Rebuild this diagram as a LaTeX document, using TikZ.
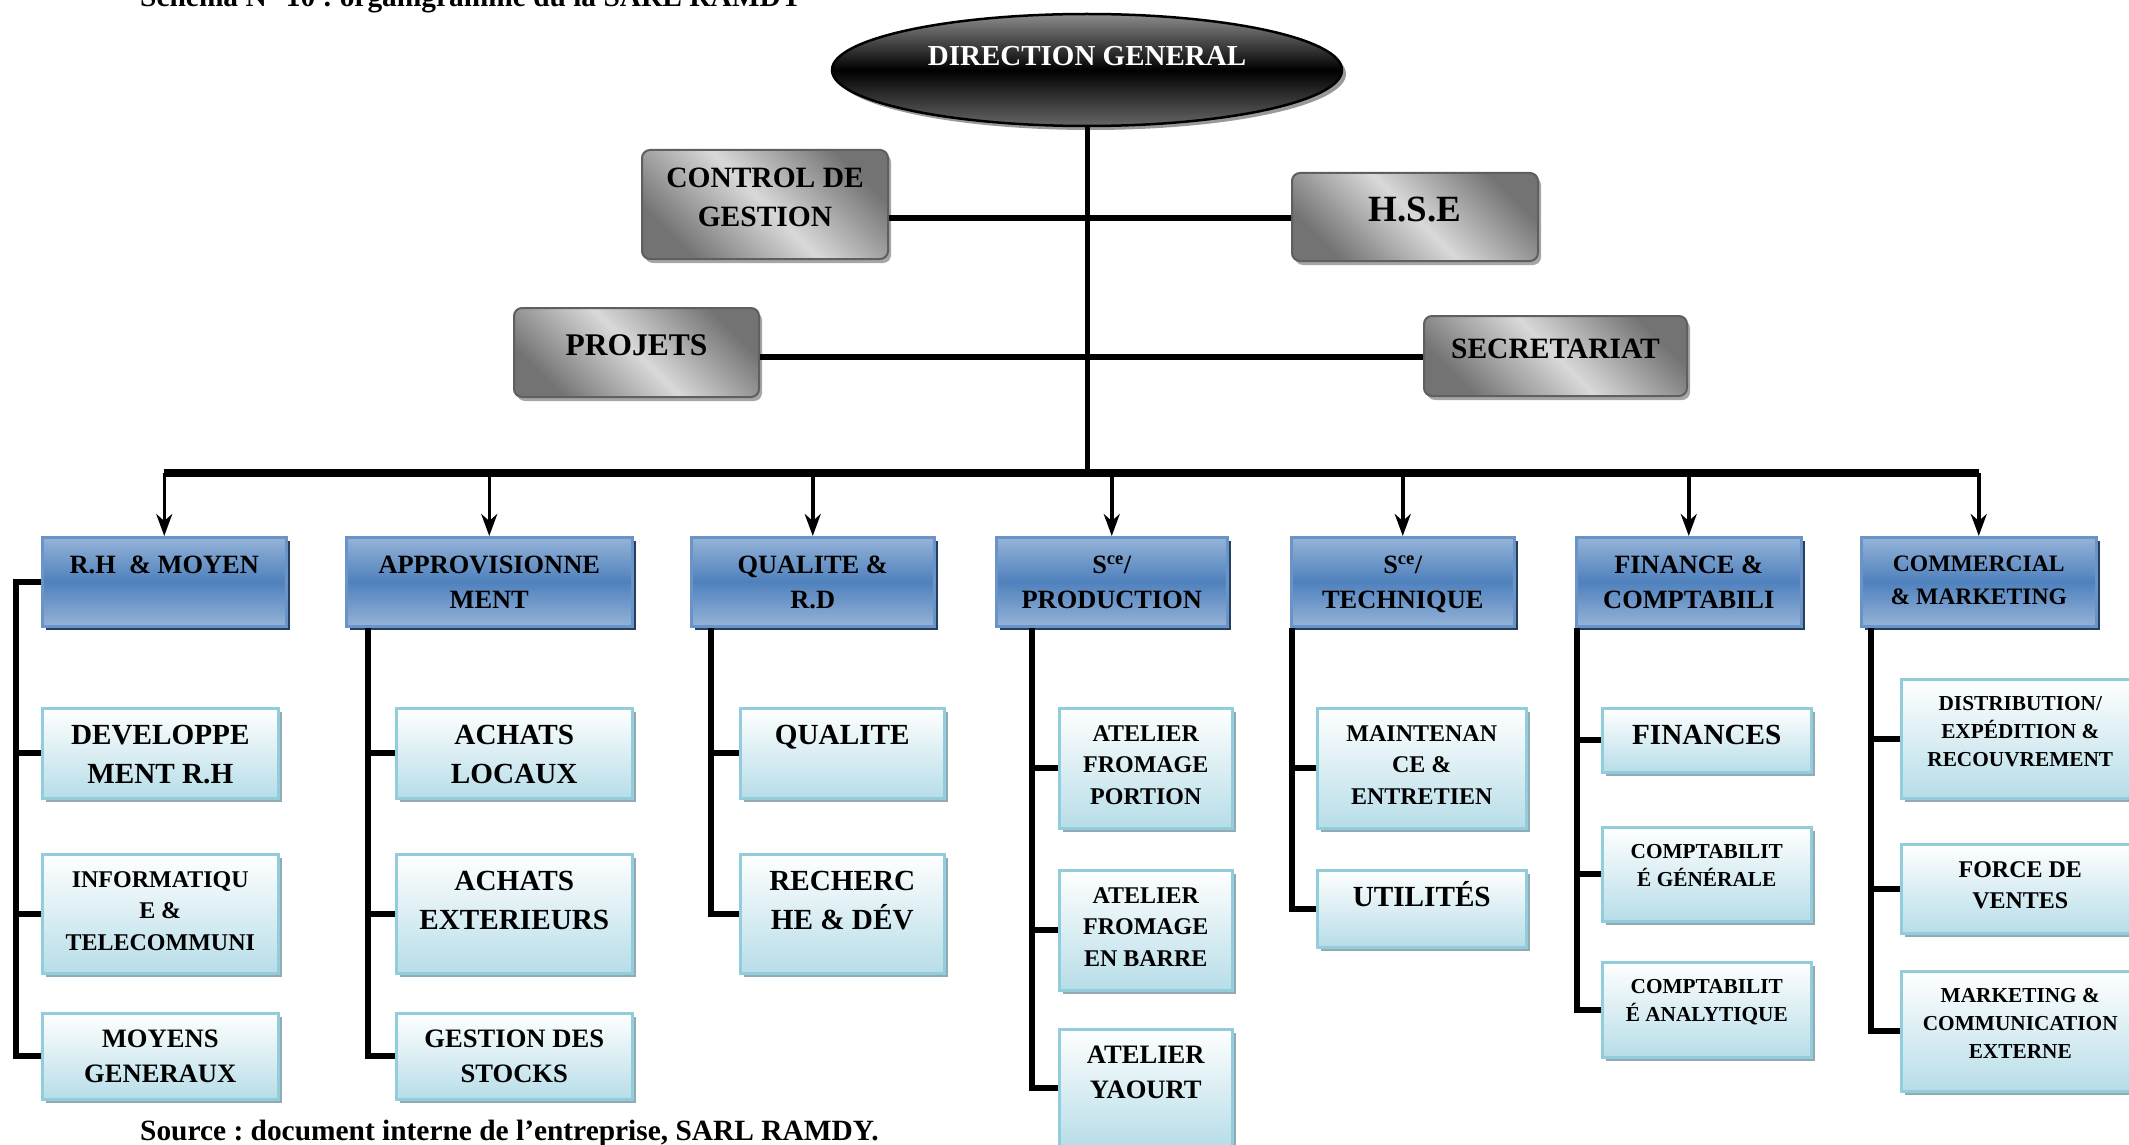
\documentclass[tikz,border=0pt]{standalone}
\usepackage{fontspec}
\setmainfont{Liberation Serif}
\usetikzlibrary{positioning,shapes.geometric,shadows,arrows.meta}

\definecolor{deptblue}{HTML}{4F81BD}
\definecolor{deptlight}{HTML}{95B3D7}
\definecolor{deptline}{HTML}{6A93C8}
\definecolor{deptshadow}{HTML}{243F60}
\definecolor{subblue}{HTML}{B7DDE8}
\definecolor{subline}{HTML}{92CDDC}
\definecolor{subshadow}{HTML}{93AAB5}
\definecolor{graydark}{HTML}{737373}
\definecolor{graylight}{HTML}{D9D9D9}
\definecolor{grayline}{HTML}{5F5F5F}

\begin{document}
\frenchspacing
\begin{tikzpicture}[x=1pt,y=-1pt,
		note/.style={inner sep=0pt, font=\bfseries\fontsize{29.4}{35}\selectfont},
		dgbox/.style={ellipse, draw=black, line width=2.5pt, top color=black!45, bottom color=black!60, middle color=black,
			text=white, text depth=28pt, minimum width=510pt, minimum height=112pt,
			font=\bfseries\fontsize{29}{35}\selectfont,
			drop shadow={shadow xshift=4pt, shadow yshift=-4pt, fill=black!40, opacity=1}},
		graybox/.style={draw=grayline, line width=2pt, rounded corners=8pt, left color=graydark, right color=graydark,
			middle color=graylight, shading angle=-45, align=center, text depth=15pt, anchor=north west,
			font=\bfseries\fontsize{29.5}{38.5}\selectfont,
			drop shadow={shadow xshift=3pt, shadow yshift=-4pt, fill=black!35, opacity=1}},
		deptbox/.style={draw=deptline, line width=2.5pt, top color=deptlight, bottom color=deptlight, middle color=deptblue,
			minimum height=89pt, anchor=north west,
			drop shadow={shadow xshift=4pt, shadow yshift=-4pt, fill=deptshadow, opacity=1}},
		subbox/.style={draw=subline, line width=2.5pt, top color=white, bottom color=subblue, anchor=north west,
			drop shadow={shadow xshift=4pt, shadow yshift=-4pt, fill=subshadow, opacity=1}},
		depttxt/.style={align=center, inner sep=0pt, font=\bfseries\fontsize{26.4}{34.5}\selectfont},
		bigtxt/.style={align=center, inner sep=0pt, font=\bfseries\fontsize{29.2}{39}\selectfont},
		midtxt/.style={align=center, inner sep=0pt, font=\bfseries\fontsize{26.6}{35}\selectfont},
		smalltxt/.style={align=center, inner sep=0pt, font=\bfseries\fontsize{24}{31.5}\selectfont},
		tinytxt/.style={align=center, inner sep=0pt, font=\bfseries\fontsize{21.3}{28.3}\selectfont},
		mainline/.style={line width=5pt},
		conn/.style={line width=6pt},
		busline/.style={line width=7.5pt},
		arr/.style={line width=3.5pt, -{Stealth[length=22pt,width=16pt,inset=7pt]}},
		tree/.style={line width=6pt}]
	\useasboundingbox (0,0) rectangle (2129,1145);
	
	%Title and source
	\node[note, anchor=base west] (title) at (140,7) {Schéma N° 10 : organigramme du la SARL RAMDY};
	\node[note, anchor=base west] (source) at (140,1140) {Source : document interne de l’entreprise, SARL RAMDY.};
	
	%Direction
	\node[dgbox] (dg) at (1087,70) {DIRECTION GENERAL};
	
	%Staff boxes
	\node[graybox, minimum width=246pt, minimum height=109pt] (ctrl) at (641,149) {CONTROL DE\\GESTION};
	\node[graybox, minimum width=246pt, minimum height=88pt, font=\bfseries\fontsize{37}{44}\selectfont] (hse) at (1291,172) {H.S.E};
	\node[graybox, minimum width=245pt, minimum height=89pt, font=\bfseries\fontsize{31.5}{38}\selectfont] (proj) at (513,307) {PROJETS};
	\node[graybox, minimum width=263pt, minimum height=80pt] (secr) at (1423,315) {SECRETARIAT};
	
	\coordinate (j1) at (1087,218);
	\coordinate (j2) at (1087,357);
	\coordinate (bus) at (1087,473);
	\draw[mainline] (dg.south) -- (bus);
	\draw[conn] (ctrl.east |- j1) -- (hse.west |- j1);
	\draw[conn] (proj.east |- j2) -- (secr.west |- j2);
	
	%Departements
	\node[deptbox, minimum width=244pt] (rh) at (41,536) {};
	\node[depttxt, below=20pt of rh.north] (rht) {R.H\ \ \& MOYEN};
	\node[deptbox, minimum width=286pt] (appro) at (345,536) {};
	\node[depttxt, below=20pt of appro.north] (approt) {APPROVISIONNE\\MENT};
	\node[deptbox, minimum width=243pt] (qual) at (690,536) {};
	\node[depttxt, below=20pt of qual.north] (qualt) {QUALITE \&\\R.D};
	\node[deptbox, minimum width=231pt] (prod) at (995,536) {};
	\node[depttxt, below=20pt of prod.north] (prodt) {S\textsuperscript{ce}/\\PRODUCTION};
	\node[deptbox, minimum width=223pt] (tech) at (1290,536) {};
	\node[depttxt, below=20pt of tech.north] (techt) {S\textsuperscript{ce}/\\TECHNIQUE};
	\node[deptbox, minimum width=225pt] (fin) at (1575,536) {};
	\node[depttxt, below=20pt of fin.north] (fint) {FINANCE \&\\COMPTABILI};
	\node[deptbox, minimum width=235pt] (comm) at (1860,536) {};
	\node[depttxt, font=\bfseries\fontsize{23.6}{32.5}\selectfont, below=20pt of comm.north] (commt) {COMMERCIAL\\\& MARKETING};
	
	\draw[busline] (rh.north |- bus) -- (comm.north |- bus);
	\draw[arr] (rh.north |- bus) -- (rh.north);
	\draw[arr] (appro.north |- bus) -- (appro.north);
	\draw[arr] (qual.north |- bus) -- (qual.north);
	\draw[arr] (prod.north |- bus) -- (prod.north);
	\draw[arr] (tech.north |- bus) -- (tech.north);
	\draw[arr] (fin.north |- bus) -- (fin.north);
	\draw[arr] (comm.north |- bus) -- (comm.north);
	
	%R.H column
	\node[subbox, minimum width=236pt, minimum height=90pt] (devrh) at (41,707) {};
	\node[bigtxt, below=18pt of devrh.north] (devrht) {DEVELOPPE\\MENT R.H};
	\node[subbox, minimum width=236pt, minimum height=119pt] (info) at (41,853) {};
	\node[smalltxt, below=18pt of info.north] (infot) {INFORMATIQU\\E \&\\TELECOMMUNI};
	\node[subbox, minimum width=236pt, minimum height=86pt] (moyg) at (41,1012) {};
	\node[midtxt, below=18pt of moyg.north] (moygt) {MOYENS\\GENERAUX};
	\draw[tree] (rh.west) -- ++(-25,0) |- (moyg.west);
	\draw[tree] (devrh.west) -- ++(-25,0);
	\draw[tree] (info.west) -- ++(-25,0);
	
	%Approvisionnement column
	\node[subbox, minimum width=236pt, minimum height=90pt] (achl) at (395,707) {};
	\node[bigtxt, below=18pt of achl.north] (achlt) {ACHATS\\LOCAUX};
	\node[subbox, minimum width=236pt, minimum height=119pt] (ache) at (395,853) {};
	\node[bigtxt, below=18pt of ache.north] (achet) {ACHATS\\EXTERIEURS};
	\node[subbox, minimum width=236pt, minimum height=86pt] (gest) at (395,1012) {};
	\node[midtxt, below=18pt of gest.north] (gestt) {GESTION DES\\STOCKS};
	\draw[tree] ([xshift=23pt]appro.south west) |- (gest.west);
	\draw[tree] (achl.west) -- ++(-27,0);
	\draw[tree] (ache.west) -- ++(-27,0);
	
	%Qualite column
	\node[subbox, minimum width=204pt, minimum height=90pt] (qlt) at (739,707) {};
	\node[bigtxt, below=18pt of qlt.north] (qltt) {QUALITE};
	\node[subbox, minimum width=204pt, minimum height=119pt] (rech) at (739,853) {};
	\node[bigtxt, below=18pt of rech.north] (recht) {RECHERC\\HE \& DÉV};
	\draw[tree] ([xshift=21pt]qual.south west) |- (rech.west);
	\draw[tree] (qlt.west) -- ++(-28,0);
	
	%Production column
	\node[subbox, minimum width=173pt, minimum height=120pt] (atp) at (1058,707) {};
	\node[smalltxt, below=18pt of atp.north] (atpt) {ATELIER\\FROMAGE\\PORTION};
	\node[subbox, minimum width=173pt, minimum height=120pt] (atb) at (1058,869) {};
	\node[smalltxt, below=18pt of atb.north] (atbt) {ATELIER\\FROMAGE\\EN BARRE};
	\node[subbox, minimum width=173pt, minimum height=118pt] (aty) at (1058,1028) {};
	\node[midtxt, below=18pt of aty.north] (atyt) {ATELIER\\YAOURT};
	\draw[tree] ([xshift=37pt]prod.south west) |- (aty.west);
	\draw[tree] (atp.west) -- ++(-26,0);
	\draw[tree] (atb.west) -- ++(-26,0);
	
	%Technique column
	\node[subbox, minimum width=209pt, minimum height=120pt] (maint) at (1316,707) {};
	\node[smalltxt, below=18pt of maint.north] (maintt) {MAINTENAN\\CE \&\\ENTRETIEN};
	\node[subbox, minimum width=209pt, minimum height=77pt] (util) at (1316,869) {};
	\node[bigtxt, text height=19pt, below=18pt of util.north] (utilt) {UTILITÉS};
	\draw[tree] ([xshift=2pt]tech.south west) |- (util.west);
	\draw[tree] (maint.west) -- ++(-24,0);
	
	%Finance column
	\node[subbox, minimum width=209pt, minimum height=64pt] (fins) at (1601,707) {};
	\node[bigtxt, below=18pt of fins.north] (finst) {FINANCES};
	\node[subbox, minimum width=209pt, minimum height=94pt] (compg) at (1601,826) {};
	\node[tinytxt, below=18pt of compg.north] (compgt) {COMPTABILIT\\É GÉNÉRALE};
	\node[subbox, minimum width=209pt, minimum height=95pt] (compa) at (1601,961) {};
	\node[tinytxt, below=18pt of compa.north] (compat) {COMPTABILIT\\É ANALYTIQUE};
	\draw[tree] ([xshift=2pt]fin.south west) |- (compa.west);
	\draw[tree] (fins.west) -- ++(-24,0);
	\draw[tree] (compg.west) -- ++(-24,0);
	
	%Commercial column
	\node[subbox, minimum width=238pt, minimum height=119pt] (dist) at (1900,678) {};
	\node[tinytxt, below=18pt of dist.north] (distt) {DISTRIBUTION/\\EXPÉDITION \&\\RECOUVREMENT};
	\node[subbox, minimum width=238pt, minimum height=89pt] (force) at (1900,843) {};
	\node[smalltxt, below=18pt of force.north] (forcet) {FORCE DE\\VENTES};
	\node[subbox, minimum width=238pt, minimum height=120pt] (mark) at (1900,970) {};
	\node[tinytxt, below=18pt of mark.north] (markt) {MARKETING \&\\COMMUNICATION\\EXTERNE};
	\draw[tree] ([xshift=11pt]comm.south west) |- (mark.west);
	\draw[tree] (dist.west) -- ++(-29,0);
	\draw[tree] (force.west) -- ++(-29,0);
\end{tikzpicture}
\end{document}
